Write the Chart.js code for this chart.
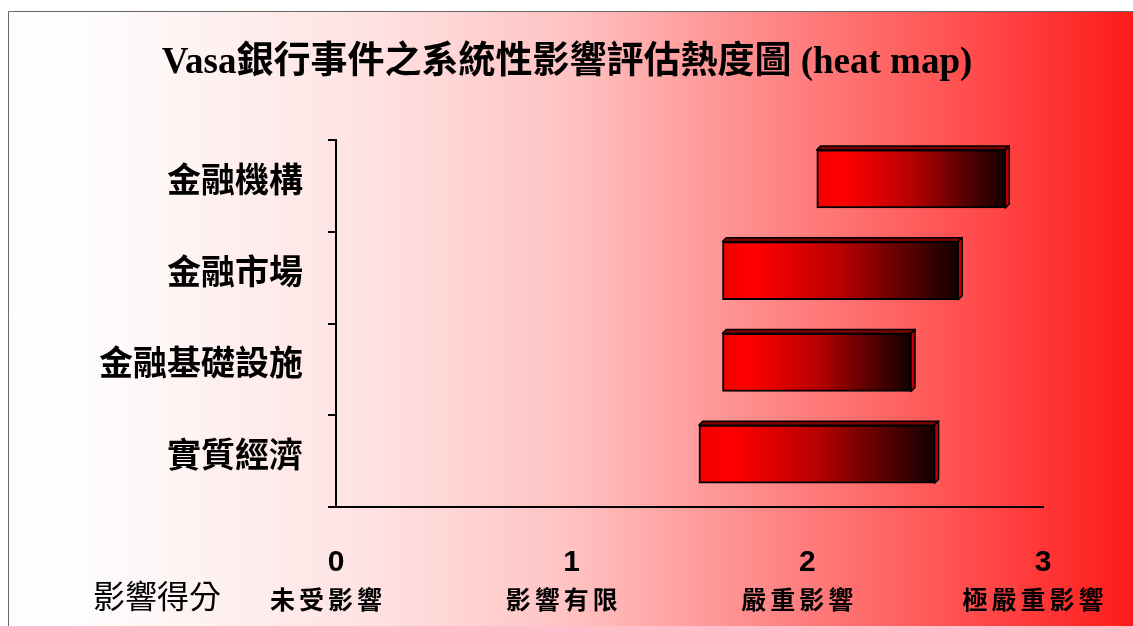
<!DOCTYPE html>
<html>
<head>
<meta charset="utf-8">
<script src="https://cdn.jsdelivr.net/npm/chart.js@4.4.1/dist/chart.umd.min.js"></script>
<style>
  html, body { margin: 0; padding: 0; background: #fff; overflow: hidden; }
  canvas { display: block; }
</style>
</head>
<body>
<canvas id="heat" width="1133" height="626"></canvas>
<script>
// Systemic impact ranges (score 0–3) per sector
const categories = ['金融機構', '金融市場', '金融基礎設施', '實質經濟'];
const scoreLow  = [2.04, 1.64, 1.64, 1.54];
const scoreHigh = [2.84, 2.64, 2.44, 2.54];
const scoreTicks = [0, 1, 2, 3];
const scoreNames = ['未受影響', '影響有限', '嚴重影響', '極嚴重影響'];
const titleText = 'Vasa銀行事件之系統性影響評估熱度圖 (heat map)';
const axisCaption = '影響得分';

const CJK = "'Noto Sans CJK TC'";
const BAR_DEPTH = 4;
const BAR_LIFT = -7;

// Horizontal fill of each bar: bright red fading to near black
function barFill(ctx) {
  const chart = ctx.chart;
  const xs = chart.scales && chart.scales.x;
  if (!xs || !Array.isArray(ctx.raw)) return '#c00000';
  const x0 = xs.getPixelForValue(ctx.raw[0]);
  const x1 = xs.getPixelForValue(ctx.raw[1]);
  if (!isFinite(x0) || !isFinite(x1) || x0 === x1) return '#c00000';
  const g = chart.ctx.createLinearGradient(x0, 0, x1, 0);
  g.addColorStop(0, '#f40000');
  g.addColorStop(0.14, '#ff0000');
  g.addColorStop(0.5, '#b80000');
  g.addColorStop(0.8, '#540000');
  g.addColorStop(1, '#120000');
  return g;
}

// Panel background: white on the left, saturated red on the right
const panelBackground = {
  id: 'panelBackground',
  beforeDraw(chart) {
    const { ctx, width, height } = chart;
    ctx.save();
    ctx.fillStyle = '#ffffff';
    ctx.fillRect(0, 0, width, height);
    const g = ctx.createLinearGradient(8, 0, width, 0);
    const stops = [[8, '#ffffff'], [100, '#fefbfb'], [380, '#ffe1e1'], [570, '#ffc2c2'],
                   [760, '#ff8a8a'], [950, '#ff5353'], [1133, '#ff1a1a']];
    stops.forEach(([px, c]) => g.addColorStop((px - 8) / (width - 8), c));
    ctx.fillStyle = g;
    ctx.fillRect(8, 11, width - 8, height - 11);
    ctx.strokeStyle = '#666';
    ctx.lineWidth = 1;
    ctx.beginPath();
    ctx.moveTo(8.5, height);
    ctx.lineTo(8.5, 11.5);
    ctx.lineTo(width, 11.5);
    ctx.stroke();
    ctx.restore();
  }
};

// Raised look for the bars: top and right faces, with the set lifted slightly
const bevelBars = {
  id: 'bevelBars',
  beforeDatasetsDraw(chart) {
    const ctx = chart.ctx;
    ctx.save();
    ctx.translate(0, BAR_LIFT);
    const meta = chart.getDatasetMeta(0);
    const d = BAR_DEPTH;
    meta.data.forEach(el => {
      const p = el.getProps(['x', 'y', 'base', 'height'], true);
      const left = Math.min(p.x, p.base), right = Math.max(p.x, p.base);
      const top = p.y - p.height / 2, bottom = p.y + p.height / 2;
      ctx.lineWidth = 1.5;
      ctx.strokeStyle = '#000';
      ctx.lineJoin = 'round';
      // top face
      ctx.beginPath();
      ctx.moveTo(left, top);
      ctx.lineTo(left + d, top - d);
      ctx.lineTo(right + d, top - d);
      ctx.lineTo(right, top);
      ctx.closePath();
      ctx.fillStyle = '#7a0000';
      ctx.fill();
      ctx.stroke();
      // right face
      ctx.beginPath();
      ctx.moveTo(right, top);
      ctx.lineTo(right + d, top - d);
      ctx.lineTo(right + d, bottom - d);
      ctx.lineTo(right, bottom);
      ctx.closePath();
      ctx.fillStyle = '#c00000';
      ctx.fill();
      ctx.stroke();
    });
  },
  afterDatasetsDraw(chart) {
    chart.ctx.restore();
  }
};

// Title, score descriptions under the numbers, and the axis caption
const chartText = {
  id: 'chartText',
  afterDraw(chart) {
    const ctx = chart.ctx;
    const xs = chart.scales.x;
    ctx.save();
    ctx.fillStyle = '#000';
    ctx.textAlign = 'center';
    ctx.textBaseline = 'middle';
    ctx.font = "bold 37px 'Liberation Serif', " + CJK;
    ctx.fillText(titleText, 567, 63);

    ctx.font = 'bold 25px ' + CJK;
    const sp = 4;
    ctx.letterSpacing = sp + 'px';
    scoreTicks.forEach((v, i) => {
      ctx.fillText(scoreNames[i], xs.getPixelForValue(v) - 10 + sp / 2, 599);
    });
    ctx.letterSpacing = '0px';

    ctx.font = '32px ' + CJK;
    ctx.fillText(axisCaption, 157, 596);
    ctx.restore();
  }
};

new Chart(document.getElementById('heat'), {
  type: 'bar',
  data: {
    labels: categories,
    datasets: [{
      data: categories.map((c, i) => [scoreLow[i], scoreHigh[i]]),
      backgroundColor: barFill,
      borderColor: '#000',
      borderWidth: 2,
      borderSkipped: false,
      barThickness: 58
    }]
  },
  options: {
    indexAxis: 'y',
    responsive: false,
    animation: false,
    layout: { padding: { top: 140, left: 0, right: 90, bottom: 0 } },
    plugins: {
      legend: { display: false },
      tooltip: { enabled: false },
      title: { display: false }
    },
    scales: {
      x: {
        type: 'linear',
        position: 'bottom',
        min: 0,
        max: 3,
        afterBuildTicks(scale) { scale.ticks = scoreTicks.map(v => ({ value: v })); },
        ticks: {
          color: '#000',
          padding: 38,
          maxRotation: 0,
          font: { family: "'Liberation Sans'", size: 30, weight: 'bold' }
        },
        grid: { display: true, drawOnChartArea: false, drawTicks: false },
        border: { display: true, color: '#000', width: 2 },
        afterFit(scale) { scale.height = 119; }
      },
      y: {
        type: 'category',
        position: 'left',
        offset: true,
        grid: {
          display: true, offset: true, drawOnChartArea: false, drawTicks: true,
          tickLength: 8, color: '#000', lineWidth: 2
        },
        border: { display: true, color: '#000', width: 2 },
        ticks: {
          color: '#000',
          padding: 25,
          labelOffset: -7,
          font: { family: CJK, size: 34, weight: 'bold' }
        },
        afterFit(scale) { scale.width = 336; }
      }
    }
  },
  plugins: [panelBackground, bevelBars, chartText]
});
</script>
</body>
</html>
